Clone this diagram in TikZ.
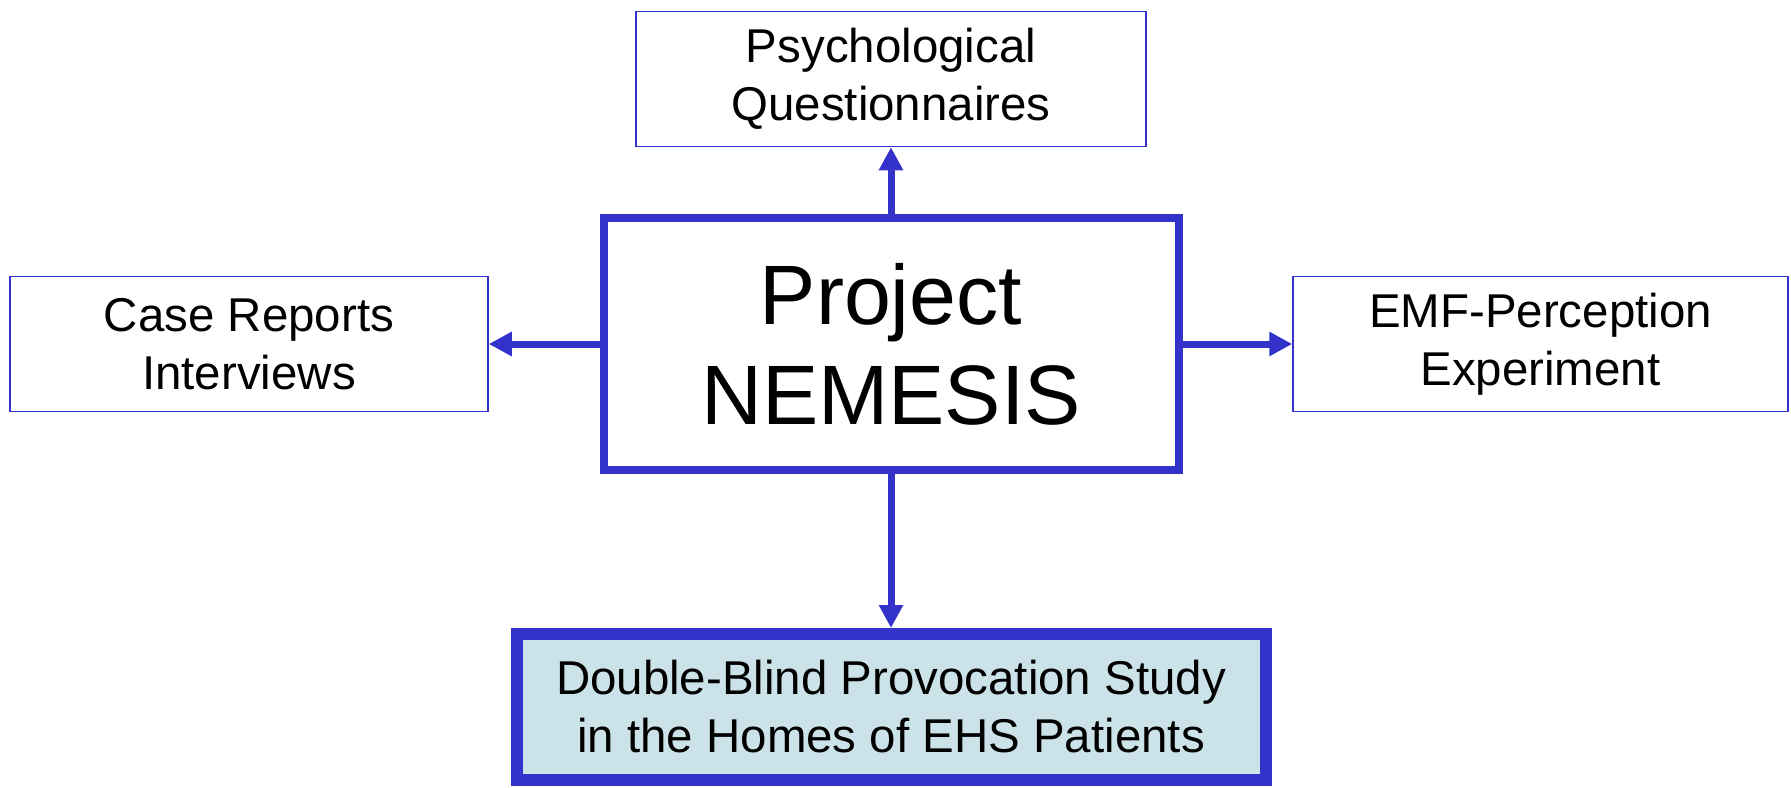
\documentclass[tikz,border=0pt]{standalone}
\usepackage{fontspec}
\setmainfont{Liberation Sans}
\usetikzlibrary{arrows.meta,positioning}
\definecolor{nemblue}{RGB}{51,51,204}
\definecolor{studyfill}{RGB}{203,227,232}

\begin{document}
\begin{tikzpicture}[
  part/.style = {draw = nemblue, line width = 0.03cm, shape = rectangle, align = center, inner sep = 0pt, minimum height = 2.7cm, font = \fontsize{27}{33}\selectfont},
  link/.style = {draw = nemblue, line width = 0.14cm, -{Triangle[length = 0.46cm, width = 0.46cm]}}
]
\useasboundingbox (0,0) rectangle (35.82,-15.76);

\node[part, draw = nemblue, line width = 0.16cm, minimum width = 11.5cm, minimum height = 5.04cm, font = \fontsize{48}{57}\selectfont] (proj) at (17.82,-6.88) {Project\\NEMESIS};
\node[part, minimum width = 10.2cm] (quest) at (17.82,-1.58) {Psychological\\Questionnaires};
\node[part, minimum width = 9.56cm] (cases) at (4.98,-6.88) {Case Reports\\Interviews};
\node[part, minimum width = 9.9cm] (emf) at (30.81,-6.88) {EMF-Perception\\Experiment};
\node[part, fill = studyfill, line width = 0.24cm, minimum width = 14.98cm, minimum height = 2.92cm] (study) at (17.82,-14.14) {Double-Blind Provocation Study\\in the Homes of EHS Patients};

% links from the project to its parts
\draw[link] (proj.north) -- (quest.south);
\draw[link] (proj.west) -- (cases.east);
\draw[link] (proj.east) -- (emf.west);
\draw[link] (proj.south) -- (study.north);
\end{tikzpicture}
\end{document}
